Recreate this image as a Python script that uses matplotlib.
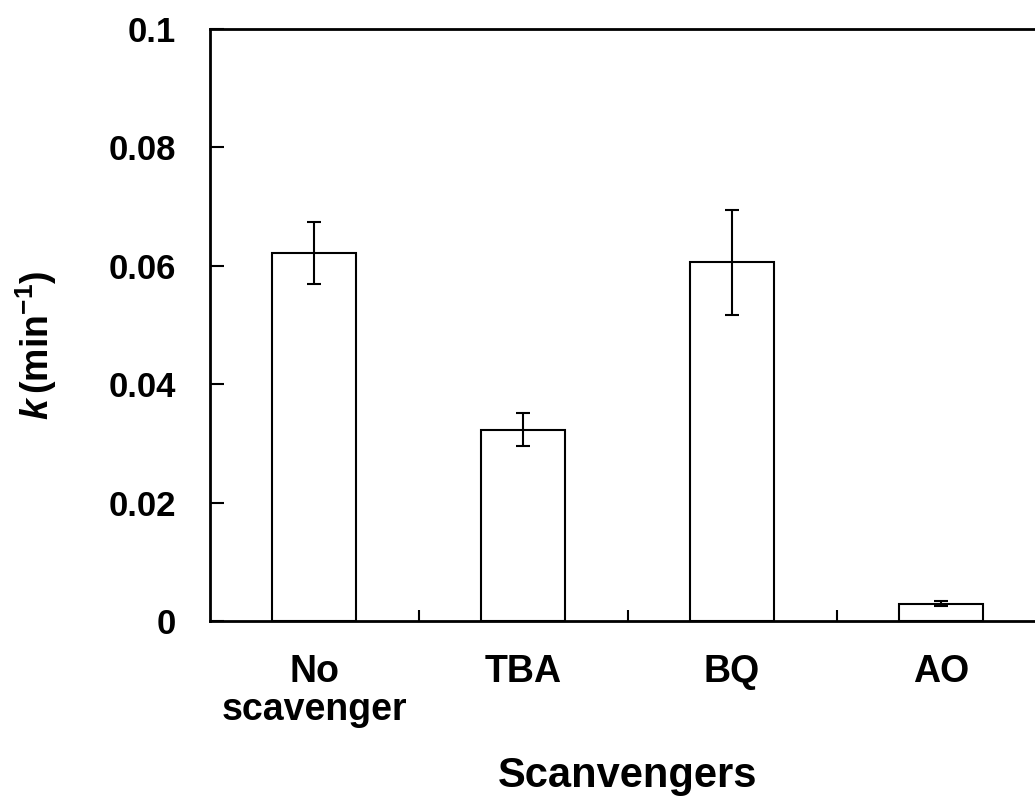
import numpy as np
import matplotlib.pyplot as plt

# data
categories = ['No\nscavenger', 'TBA', 'BQ', 'AO']
k_values = [0.0622, 0.0323, 0.0606, 0.0029]
k_errors = [0.0052, 0.0028, 0.0089, 0.0004]
y_ticks = [0, 0.02, 0.04, 0.06, 0.08, 0.1]
y_tick_labels = ['0', '0.02', '0.04', '0.06', '0.08', '0.1']

plt.rcParams['font.family'] = ['Liberation Sans', 'DejaVu Sans']
plt.rcParams['font.weight'] = 'bold'
plt.rcParams['mathtext.fontset'] = 'custom'
plt.rcParams['mathtext.rm'] = 'Liberation Sans:bold'
plt.rcParams['mathtext.bf'] = 'Liberation Sans:bold'
plt.rcParams['mathtext.it'] = 'Liberation Sans:bold:italic'

fig = plt.figure(figsize=(10.35, 7.98), dpi=100)
# right spine sits just past the right edge of the picture
ax = fig.add_axes([209.5 / 1035, 1 - 621 / 798, 836 / 1035, 592 / 798])

x = np.arange(len(categories)) + 0.5
ax.bar(x, k_values, width=0.4, color='white', edgecolor='black', linewidth=1.5,
       yerr=k_errors, capsize=5,
       error_kw=dict(elinewidth=1.5, capthick=1.5, ecolor='black'))

ax.set_xlim(0, 4)
ax.set_ylim(0, 0.1)
ax.set_yticks(y_ticks)
ax.set_yticklabels(y_tick_labels)
ax.set_xticks([1, 2, 3])
ax.set_xticklabels([])
ax.set_xticks(x, minor=True)
ax.set_xticklabels(categories, minor=True, linespacing=1.05)
ax.tick_params(axis='x', which='minor', length=0, pad=24, labelsize=27)
ax.tick_params(axis='x', which='major', direction='in', length=8, width=1.5)
ax.tick_params(axis='y', direction='in', length=10, width=1.5, labelsize=25, pad=24)
for s in ax.spines.values():
    s.set_linewidth(2)

ax.set_xlabel('Scanvengers', fontsize=30, fontweight='bold', labelpad=20)
ax.set_ylabel(r'$\mathit{k}\,$(min$^{\mathrm{-1}}$)', fontsize=27, fontweight='bold', labelpad=36)
ax.yaxis.label.set_y(0.465)

fig.savefig('out.png', dpi=100)
